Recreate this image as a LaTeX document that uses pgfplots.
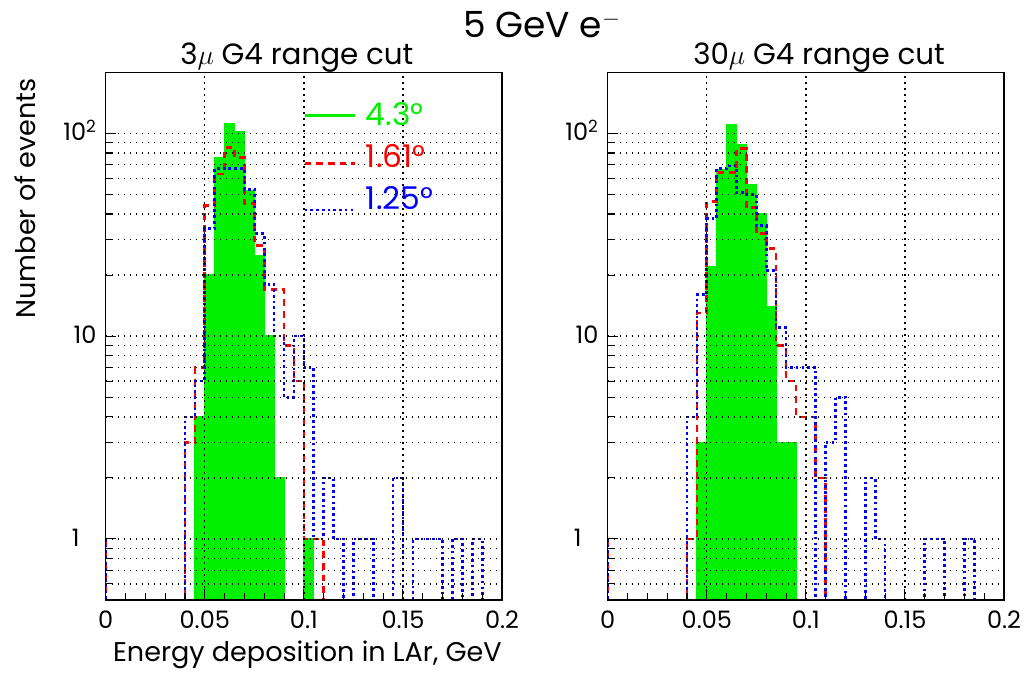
\documentclass[border=0pt]{standalone}
\usepackage{fontspec}
\setmainfont{Poppins}
\usepackage{pgfplots}
\pgfplotsset{compat=1.18}
\definecolor{rgreen}{RGB}{0,240,0}
\definecolor{rred}{RGB}{255,0,0}
\definecolor{rblue}{RGB}{0,0,255}
\pgfplotsset{
  redh/.style={const plot, rred, line width=2pt, dash pattern=on 5pt off 3.75pt},
  blueh/.style={const plot, rblue, line width=2pt, dash pattern=on 2pt off 2.3pt},
  greenh/.style={const plot, fill=rgreen, draw=rgreen, line width=1pt},
}
\begin{document}
\begin{tikzpicture}
\path[use as bounding box] (0,0) rectangle (770.25pt,506.25pt);
\node[anchor=base west, inner sep=0pt] at (347.25pt,477.75pt) {\fontsize{27}{30}\selectfont 5 GeV e\textsuperscript{$-$}};
\node[anchor=base west, inner sep=0pt] at (135pt,457.5pt) {\fontsize{22}{24}\selectfont 3$\mu$ G4 range cut};
\node[anchor=base west, inner sep=0pt] at (519.75pt,457.5pt) {\fontsize{22}{24}\selectfont 30$\mu$ G4 range cut};

\begin{axis}[
  at={(79.3pt,56.25pt)}, anchor=south west,
  scale only axis, width=297.2pt, height=395.8pt,
  xmin=0, xmax=0.2, ymin=0.5, ymax=200,
  ymode=log, log origin=infty,
  axis on top,
  xtick={0,0.05,0.1,0.15,0.2},
  xticklabels={0,0.05,0.1,0.15,0.2},
  minor xtick={0.01,0.02,0.03,0.04,0.06,0.07,0.08,0.09,0.11,0.12,0.13,0.14,0.16,0.17,0.18,0.19},
  ytick={1,10,100},
  yticklabels={1\hspace*{12.75pt},10,10\textsuperscript{2}},
  minor ytick={0.5,0.6,0.7,0.8,0.9,2,3,4,5,6,7,8,9,20,30,40,50,60,70,80,90,200},
  tick align=inside, xtick pos=left, ytick pos=left,
  major tick length=8pt, minor tick length=5pt,
  tick style={black, line width=0.8pt},
  axis line style={black, line width=1pt},
  xmajorgrids, ymajorgrids, yminorgrids,
  grid style={black, line width=1pt, dash pattern=on 1.2pt off 3.3pt},
  minor grid style={black, line width=1pt, dash pattern=on 1.2pt off 3.3pt},
  xticklabel style={anchor=base, inner sep=0pt, yshift=-21.2pt, font=\fontsize{18}{20}\selectfont},
  yticklabel style={anchor=base east, inner sep=0pt, xshift=-6.75pt, yshift=-5.6pt, font=\fontsize{18}{20}\selectfont},
  xlabel={Energy deposition in LAr, GeV},
  xlabel style={at={(axis description cs:1,0)}, anchor=base east, inner sep=0pt, yshift=-46.3pt, font=\fontsize{20.3}{22}\selectfont},
  ylabel={Number of events},
  ylabel style={at={(axis description cs:-0.176,0.989)}, anchor=base east, inner sep=0pt, font=\fontsize{20.3}{22}\selectfont},
  legend style={at={(axis description cs:0.4986,0.9413)}, anchor=north west, draw=none, fill=none, inner sep=0pt, outer sep=0pt, row sep=13.55pt,
    font=\fontsize{23.5}{24}\selectfont, nodes={inner sep=0pt, text height=16.45pt},
    /tikz/every odd column/.append style={column sep=7.5pt}},
  legend cell align=left,
  legend image code/.code={\draw[#1] (0pt,0pt) -- (37.5pt,0pt);},
]
\addplot[greenh, forget plot] coordinates {(0,0.5) (0.045,4) (0.05,20) (0.055,76) (0.06,111) (0.065,102) (0.07,52) (0.075,25) (0.08,10) (0.085,2) (0.09,0.5) (0.1,1) (0.105,0.5) (0.2,0.5)} \closedcycle;
\addplot[redh, forget plot] coordinates {(0,1) (0,0.3) (0.04,3) (0.045,7) (0.05,44) (0.055,63) (0.06,85) (0.065,76) (0.07,45) (0.075,28) (0.08,17) (0.085,17) (0.09,9) (0.095,6) (0.1,1) (0.105,1) (0.11,0.3) (0.2,1)};
\addplot[blueh, forget plot] coordinates {(0,1) (0,0.3) (0.04,4) (0.045,6) (0.05,34) (0.055,67) (0.06,67) (0.065,67) (0.07,53) (0.075,32) (0.08,18) (0.085,10) (0.09,5) (0.095,10) (0.1,7) (0.105,1) (0.11,2) (0.115,1) (0.12,0.3) (0.125,1) (0.135,0.3) (0.145,2) (0.15,0.3) (0.155,1) (0.17,0.3) (0.175,1) (0.18,0.3) (0.185,1) (0.19,0.3) (0.2,1)};
\addlegendimage{rgreen, line width=2pt}
\addlegendentry{\textcolor{rgreen}{4.3°}}
\addlegendimage{rred, line width=2pt, dash pattern=on 5pt off 3.75pt, yshift=-4.85pt}
\addlegendentry{\textcolor{rred}{1.61°}\rule[-6.75pt]{0pt}{6.75pt}}
\addlegendimage{rblue, line width=2pt, dash pattern=on 2pt off 2.3pt, yshift=-8.2pt}
\addlegendentry{\textcolor{rblue}{1.25°}}
\end{axis}

\begin{axis}[
  at={(455.8pt,56.25pt)}, anchor=south west,
  scale only axis, width=297.2pt, height=395.8pt,
  xmin=0, xmax=0.2, ymin=0.5, ymax=200,
  ymode=log, log origin=infty,
  axis on top,
  xtick={0,0.05,0.1,0.15,0.2},
  xticklabels={0,0.05,0.1,0.15,0.2},
  minor xtick={0.01,0.02,0.03,0.04,0.06,0.07,0.08,0.09,0.11,0.12,0.13,0.14,0.16,0.17,0.18,0.19},
  ytick={1,10,100},
  yticklabels={1\hspace*{12.75pt},10,10\textsuperscript{2}},
  minor ytick={0.5,0.6,0.7,0.8,0.9,2,3,4,5,6,7,8,9,20,30,40,50,60,70,80,90,200},
  tick align=inside, xtick pos=left, ytick pos=left,
  major tick length=8pt, minor tick length=5pt,
  tick style={black, line width=0.8pt},
  axis line style={black, line width=1pt},
  xmajorgrids, ymajorgrids, yminorgrids,
  grid style={black, line width=1pt, dash pattern=on 1.2pt off 3.3pt},
  minor grid style={black, line width=1pt, dash pattern=on 1.2pt off 3.3pt},
  xticklabel style={anchor=base, inner sep=0pt, yshift=-21.2pt, font=\fontsize{18}{20}\selectfont},
  yticklabel style={anchor=base east, inner sep=0pt, xshift=-6.75pt, yshift=-5.6pt, font=\fontsize{18}{20}\selectfont},
]
\addplot[greenh] coordinates {(0,0.5) (0.045,3) (0.05,22) (0.055,66) (0.06,110) (0.065,88) (0.07,56) (0.075,40) (0.08,14) (0.085,3) (0.09,3) (0.095,0.5) (0.2,0.5)} \closedcycle;
\addplot[redh] coordinates {(0,1) (0,0.3) (0.04,1) (0.045,13) (0.05,46) (0.055,64) (0.06,64) (0.065,84) (0.07,43) (0.075,32) (0.08,27) (0.085,9) (0.09,6) (0.095,4) (0.1,4) (0.105,2) (0.11,0.3) (0.2,1)};
\addplot[blueh] coordinates {(0,1) (0,0.3) (0.04,4) (0.045,16) (0.05,38) (0.055,67) (0.06,69) (0.065,51) (0.07,50) (0.075,35) (0.08,21) (0.085,11) (0.09,7) (0.095,7) (0.1,7) (0.105,0.3) (0.11,3) (0.115,5) (0.12,0.3) (0.13,2) (0.135,1) (0.14,0.3) (0.16,1) (0.17,0.3) (0.18,1) (0.185,0.3) (0.2,1)};
\end{axis}
\end{tikzpicture}
\end{document}
